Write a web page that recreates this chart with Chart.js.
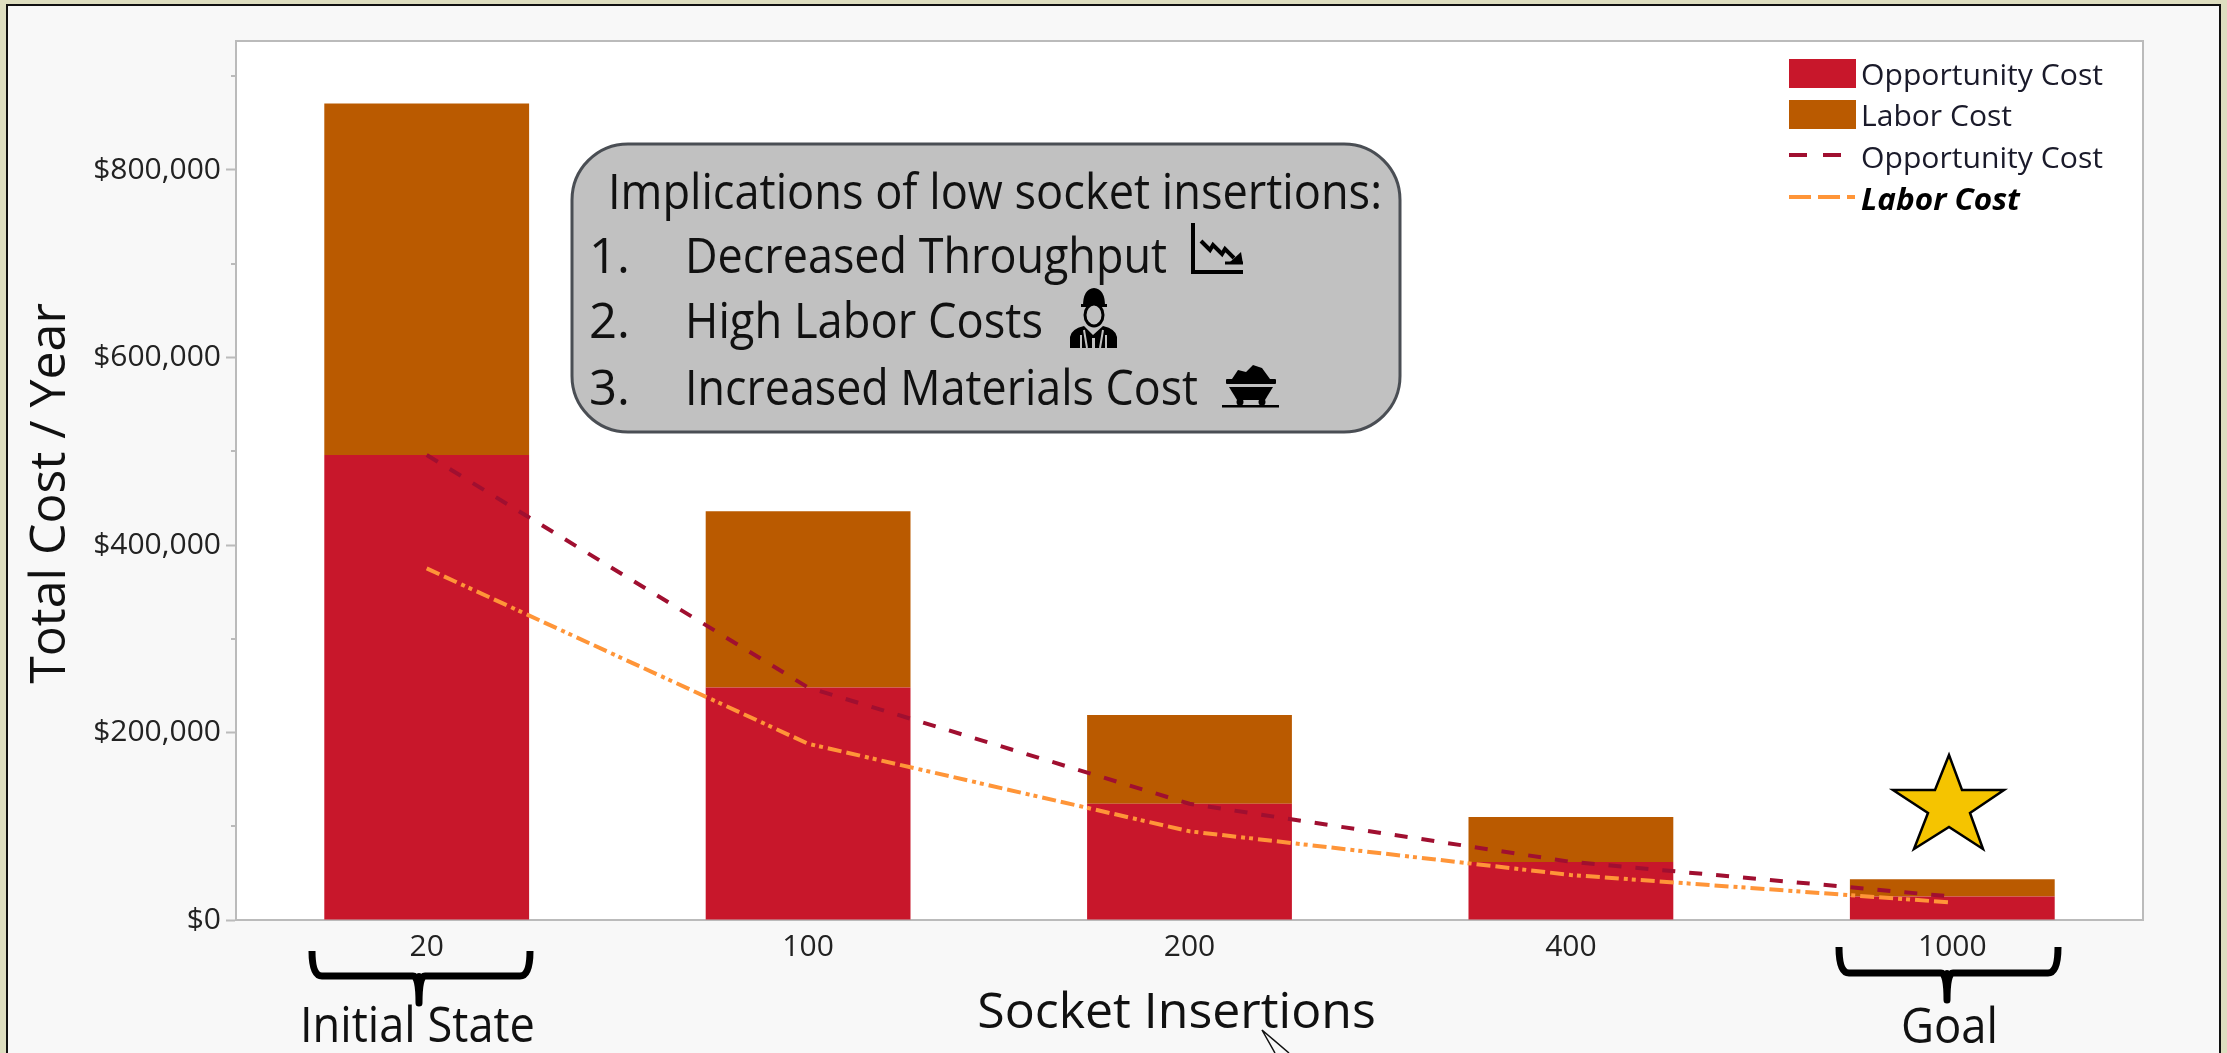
<!DOCTYPE html>
<html>
<head>
<meta charset="utf-8">
<title>Socket insertions cost</title>
<script src="https://cdn.jsdelivr.net/npm/chart.js@4/dist/chart.umd.min.js"></script>
<style>
  html, body { margin:0; padding:0; width:2227px; height:1053px; overflow:hidden; background:#DEDEC0; }
  #frame { position:absolute; left:6px; top:4px; width:2211px; height:1060px; background:#F8F8F8; border:2px solid #111; }
  #chart { position:absolute; left:0; top:0; }
  #overlay { position:absolute; left:0; top:0; font-family:"Open Sans", sans-serif; }
</style>
</head>
<body>
<div id="frame"></div>
<canvas id="chart" width="2227" height="1053"></canvas>
<svg id="overlay" width="2227" height="1053" viewBox="0 0 2227 1053" xmlns="http://www.w3.org/2000/svg"></svg>
<script>
// values
const categories = ['20', '100', '200', '400', '1000'];
const opportunityCost = [496000, 248000, 124000, 62000, 25000];
const laborCost = [375000, 188000, 94600, 48000, 18600];
const yMajorTicks = [0, 200000, 400000, 600000, 800000];
const yMinorTicks = [100000, 300000, 500000, 700000, 900000];
const calloutLines = [
  ['', 'Implications of low socket insertions:'],
  ['1.', 'Decreased Throughput'],
  ['2.', 'High Labor Costs'],
  ['3.', 'Increased Materials Cost'],
];

const FONT = '"Open Sans", sans-serif';
const RED = '#C8172B', BROWN = '#BA5A00', DARK_RED = '#A00F30', ORANGE = '#FF9538';
const AXIS = '#BBBBBB';
const DASH_OPP = [13, 14];
const DASH_LAB = [14, 5, 14, 5, 4, 4, 4, 5];

const plotFrame = {
  id: 'plotFrame',
  beforeDraw(chart){
    const {ctx, chartArea:a} = chart;
    ctx.save();
    ctx.fillStyle = '#fff';
    ctx.fillRect(a.left, a.top, a.right-a.left, a.bottom-a.top);
    ctx.strokeStyle = AXIS;
    ctx.lineWidth = 2;
    ctx.strokeRect(a.left, a.top, a.right-a.left, a.bottom-a.top);
    // short unlabelled ticks
    const y = chart.scales.y;
    yMinorTicks.forEach(v => {
      const p = Math.round(y.getPixelForValue(v));
      ctx.beginPath();
      ctx.moveTo(a.left-5, p);
      ctx.lineTo(a.left, p);
      ctx.stroke();
    });
    ctx.restore();
  }
};

const chart = new Chart(document.getElementById('chart').getContext('2d'), {
  type: 'bar',
  plugins: [plotFrame],
  data: {
    labels: categories,
    datasets: [
      { label:'Opportunity Cost', data:opportunityCost, backgroundColor:RED, stack:'bars', order:1,
        barPercentage:0.537, categoryPercentage:1 },
      { label:'Labor Cost', data:laborCost, backgroundColor:BROWN, stack:'bars', order:1,
        barPercentage:0.537, categoryPercentage:1 },
      { type:'line', label:'Opportunity Cost', data:opportunityCost, borderColor:DARK_RED, borderWidth:4,
        borderDash:DASH_OPP, pointRadius:0, fill:false, stack:'l1', order:0 },
      { type:'line', label:'Labor Cost', data:laborCost, borderColor:ORANGE, borderWidth:4,
        borderDash:DASH_LAB, pointRadius:0, fill:false, stack:'l2', order:0 },
    ]
  },
  options: {
    responsive: false,
    animation: false,
    layout: { padding: { top:41, right:84, left:0, bottom:0 } },
    plugins: { legend:{ display:false }, tooltip:{ enabled:false } },
    scales: {
      x: {
        stacked: true,
        afterFit(s){ s.height = 133; },
        grid: { drawOnChartArea:false, drawTicks:false },
        border: { color:AXIS, width:2 },
        ticks: { color:'#222', font:{ family:FONT, size:30 }, padding:9, maxRotation:0 },
        title: { display:true, text:'Socket Insertions\u00a0\u00a0', color:'#111',
          font:{ family:FONT, size:50 }, padding:{ top:0, bottom:9 } }
      },
      y: {
        stacked: true,
        min: 0,
        max: 937600,
        afterFit(s){ s.width = 236; },
        afterBuildTicks(s){ s.ticks = yMajorTicks.map(value => ({ value })); },
        grid: { drawOnChartArea:false, tickLength:10, tickColor:AXIS, tickWidth:2 },
        border: { color:AXIS, width:2 },
        ticks: { color:'#222', font:{ family:FONT, size:30 }, padding:5,
          callback: v => '$' + v.toLocaleString('en-US') },
        title: { display:true, text:'Total Cost / Year\u00a0\u00a0', color:'#111',
          font:{ family:FONT, size:50 }, padding:{ top:21, bottom:0 } }
      }
    }
  }
});

// everything below is annotation on top of the chart
const svg = document.getElementById('overlay');
const NS = svg.namespaceURI;
function el(name, attrs, text){
  const e = document.createElementNS(NS, name);
  Object.entries(attrs).forEach(([k,v]) => e.setAttribute(k, v));
  if(text) e.textContent = text;
  svg.appendChild(e);
  return e;
}
function label(text, x, y, size, width, extra){
  const attrs = { x, y, 'font-size':size, fill:'#111', ...extra };
  if(width){ attrs.textLength = width; attrs.lengthAdjust = 'spacingAndGlyphs'; }
  return el('text', attrs, text);
}

// legend, built from the datasets
const legendSwatchX = 1789, legendTextX = 1861;
const legendWidths = [242, 151, 242, 159];
const legendRows = [74, 115, 157, 199];
chart.data.datasets.forEach((ds, i) => {
  const y = legendRows[i];
  if(ds.type === 'line'){
    el('line', { x1:legendSwatchX, x2:legendSwatchX+66, y1:y-2, y2:y-2, stroke:ds.borderColor, 'stroke-width':4,
      'stroke-dasharray': i===2 ? '18 16' : '22 7 22 7 8 7' });
  } else {
    el('rect', { x:legendSwatchX, y:y-15, width:67, height:29, fill:ds.backgroundColor });
  }
  const bold = i===3 ? { 'font-weight':'bold', 'font-style':'italic', fill:'#000' } : { fill:'#1a1a2a' };
  label(ds.label, legendTextX, y+11, 30, legendWidths[i], bold);
});

// callout box
el('rect', { x:572, y:144, width:828, height:288, rx:56, ry:56, fill:'#C1C1C1', stroke:'#4A4E54', 'stroke-width':3 });
const calloutBase = [209, 273, 338, 405];
const calloutWidths = [774, 482, 358, 513];
calloutLines.forEach(([num, txt], i) => {
  if(num) label(num, 589, calloutBase[i], 49, 0);
  label(txt, num ? 685 : 608, calloutBase[i], 49, calloutWidths[i]);
});

// falling throughput icon
el('path', { d:'M1193 223 V272 H1243', fill:'none', stroke:'#000', 'stroke-width':4 });
el('path', { d:'M1201 241 L1210 250 L1213 245 L1222 254 L1225 249 L1234 258', fill:'none', stroke:'#000', 'stroke-width':4 });
el('path', { d:'M1243 264 L1230 262 L1241 252 Z', fill:'#000' });
el('path', { d:'M1225 263 H1243', fill:'none', stroke:'#000', 'stroke-width':3 });

// worker icon
el('path', { d:'M1083 306 Q1083 289 1094 288 Q1105 289 1105 306 Z', fill:'#000' });
el('rect', { x:1081, y:304, width:26, height:3, fill:'#000' });
el('ellipse', { cx:1094, cy:315, rx:9, ry:11, fill:'#C1C1C1', stroke:'#000', 'stroke-width':3 });
el('path', { d:'M1070 348 V337 Q1071 329 1084 326 L1093 335 L1103 326 Q1116 329 1117 337 V348 H1095 V338 H1092 V348 Z', fill:'#000' });
el('path', { d:'M1081 348 V335 M1087 348 L1084 330 M1106 348 V335 M1100 348 L1103 330', stroke:'#C1C1C1', 'stroke-width':2 });

// coal cart icon
el('path', { d:'M1232 379 L1238 370 L1246 372 L1253 365 L1262 368 L1270 379 Z', fill:'#000' });
el('rect', { x:1226, y:379, width:50, height:5, rx:1, fill:'#000' });
el('path', { d:'M1229 387 H1273 L1265 400 H1237 Z', fill:'#000' });
el('circle', { cx:1240, cy:402, r:3.5, fill:'#000' });
el('circle', { cx:1262, cy:402, r:3.5, fill:'#000' });
el('rect', { x:1222, y:405, width:57, height:2.5, fill:'#000' });

// braces under the first and last bars
function brace(x0, x1, xm, top, bar, tip){
  const d = `M${x0} ${top} Q${x0} ${bar} ${x0+10} ${bar} H${xm-6} Q${xm} ${bar} ${xm} ${tip} Q${xm} ${bar} ${xm+6} ${bar} H${x1-10} Q${x1} ${bar} ${x1} ${top}`;
  el('path', { d, fill:'none', stroke:'#000', 'stroke-width':7, 'stroke-linecap':'butt', 'stroke-linejoin':'round' });
  el('line', { x1:xm, x2:xm, y1:bar, y2:tip, stroke:'#000', 'stroke-width':6, 'stroke-linecap':'round' });
}
brace(312, 530, 419, 951, 976, 1003);
brace(1839, 2058, 1947, 947, 973, 1000);
label('Initial State', 300, 1042, 50, 235);
label('Goal', 1901, 1043, 50, 97);

// star over the goal bar
el('polygon', { points:'1949,755 1962,790 2004,790 1970,813 1983,849 1949,827 1914,849 1928,813 1893,790 1935,790',
  fill:'#F5C400', stroke:'#000', 'stroke-width':2.5 });

// stray arrow outline at the bottom edge
el('path', { d:'M1275 1053 L1262 1030 L1289 1053', fill:'none', stroke:'#111', 'stroke-width':1.5 });
</script>
</body>
</html>
